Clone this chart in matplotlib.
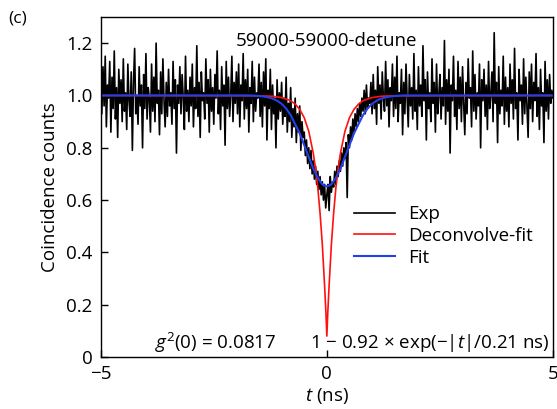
import numpy as np
import matplotlib
matplotlib.use('Agg')
import matplotlib.pyplot as plt

plt.rcParams['font.family'] = ['Open Sans', 'DejaVu Sans']
plt.rcParams['mathtext.fontset'] = 'custom'
plt.rcParams['mathtext.rm'] = 'Open Sans'
plt.rcParams['mathtext.it'] = 'Open Sans:italic'

# measured coincidence counts, t from -5 to 5 ns in 0.025 ns steps
exp_counts = [
    1.02, 0.93, 1.11, 0.96, 1.15, 0.88, 1.04, 0.99, 1.13, 0.86, 1.07, 0.95, 1.17, 0.91, 1.03, 0.84, 1.10, 0.97, 1.06, 0.90,
    1.14, 0.94, 1.01, 0.87, 1.12, 0.98, 0.92, 1.09, 0.79, 1.05, 1.18, 0.93, 1.00, 0.89, 1.11, 0.96, 1.04, 0.80, 1.08, 0.95,
    1.16, 0.91, 1.03, 0.99, 0.86, 1.12, 0.94, 1.07, 0.90, 1.20, 0.97, 1.02, 0.85, 1.09, 0.93, 1.14, 0.98, 0.88, 1.05, 0.92,
    1.10, 0.96, 1.01, 0.89, 1.13, 0.95, 1.06, 0.78, 1.04, 0.97, 1.11, 0.93, 1.08, 0.99, 0.87, 1.15, 0.94, 1.02, 0.90, 1.07,
    0.96, 1.12, 0.88, 1.03, 0.95, 1.19, 0.92, 1.05, 0.84, 1.09, 0.98, 1.01, 0.91, 1.14, 0.97, 1.06, 0.86, 1.10, 0.94, 1.03,
    0.89, 1.08, 0.99, 1.17, 0.93, 1.02, 0.87, 1.11, 0.96, 1.04, 0.81, 1.13, 0.95, 1.07, 0.92, 1.00, 1.15, 0.90, 1.05, 0.97,
    1.09, 0.93, 1.12, 0.88, 1.04, 0.98, 1.16, 0.91, 1.06, 0.95, 1.10, 0.86, 1.03, 0.97, 1.13, 0.90, 1.07, 0.94, 1.01, 0.99,
    1.12, 0.92, 1.05, 0.88, 1.09, 0.96, 1.14, 0.83, 1.02, 0.95, 1.10, 0.87, 1.04, 0.93, 0.99, 0.80, 1.06, 0.91, 1.01, 0.94,
    1.05, 0.89, 0.99, 0.92, 1.07, 0.86, 0.97, 0.90, 1.03, 0.84, 0.95, 0.88, 0.99, 0.82, 0.93, 0.86, 0.96, 0.79, 0.90, 0.84,
    0.86, 0.77, 0.83, 0.74, 0.80, 0.72, 0.79, 0.70, 0.75, 0.68, 0.73, 0.66, 0.71, 0.64, 0.69, 0.62, 0.67, 0.60, 0.66, 0.57,
    0.62, 0.66, 0.56, 0.69, 0.63, 0.67, 0.65, 0.71, 0.66, 0.73, 0.69, 0.75, 0.71, 0.78, 0.73, 0.80, 0.76, 0.82, 0.61, 0.85,
    0.80, 0.88, 0.83, 0.91, 0.86, 0.93, 0.88, 0.95, 0.90, 0.97, 0.92, 0.99, 0.94, 1.02, 0.93, 1.04, 0.95, 0.99, 0.97, 1.05,
    0.93, 1.08, 0.95, 1.02, 0.89, 1.11, 0.97, 1.04, 0.91, 1.09, 0.99, 0.94, 1.13, 0.96, 1.06, 0.88, 1.03, 0.98, 1.12, 0.92,
    1.07, 0.95, 1.15, 0.90, 1.01, 0.97, 1.10, 0.85, 1.05, 0.93, 1.12, 0.99, 0.88, 1.08, 0.96, 1.03, 0.91, 1.16, 0.94, 1.02,
    0.87, 1.11, 0.96, 1.04, 0.92, 1.19, 0.98, 1.06, 0.83, 1.09, 0.95, 1.01, 0.90, 1.14, 0.97, 1.05, 0.86, 1.12, 0.93, 1.00,
    1.08, 0.91, 1.03, 0.96, 1.21, 0.89, 1.06, 0.94, 1.10, 0.78, 1.04, 0.98, 1.15, 0.92, 1.02, 0.87, 1.13, 0.95, 1.07, 0.90,
    1.11, 0.97, 0.85, 1.05, 0.93, 1.14, 0.99, 1.03, 0.88, 1.17, 0.94, 1.08, 0.91, 1.01, 0.96, 1.12, 0.80, 1.06, 0.98, 1.10,
    0.92, 1.04, 0.87, 1.13, 0.95, 1.00, 1.09, 0.90, 1.24, 0.97, 1.05, 0.82, 1.11, 0.93, 1.02, 0.96, 1.15, 0.89, 1.07, 0.94,
    1.03, 0.88, 1.12, 0.97, 1.06, 0.91, 1.18, 0.95, 1.01, 0.83, 1.10, 0.98, 1.04, 0.89, 1.14, 0.93, 1.07, 0.96, 0.84, 1.09,
    0.95, 1.12, 0.90, 1.05, 0.98, 1.16, 0.92, 1.03, 0.87, 1.10, 0.96, 1.01, 0.82, 1.13, 0.94, 1.06, 0.91, 1.08, 0.97, 1.02,
    0.99,
]
t_exp = np.linspace(-5, 5, len(exp_counts))

# deconvolved fit curve
t_dec = [-5.0, -1.5, -1.2, -1.0, -0.8, -0.7, -0.6, -0.5, -0.4, -0.3, -0.25, -0.2, -0.15, -0.1, -0.05, -0.02, 0.0,
         0.02, 0.05, 0.1, 0.15, 0.2, 0.25, 0.3, 0.4, 0.5, 0.6, 0.7, 0.8, 1.0, 1.2, 1.5, 5.0]
y_dec = [1.0, 0.999, 0.997, 0.992, 0.98, 0.967, 0.947, 0.915, 0.863, 0.779, 0.72, 0.647, 0.55, 0.43, 0.273, 0.167, 0.08,
         0.167, 0.273, 0.43, 0.55, 0.647, 0.72, 0.779, 0.863, 0.915, 0.947, 0.967, 0.98, 0.992, 0.997, 0.999, 1.0]

# convolved fit curve
t_fit = [-5.0, -2.0, -1.7, -1.5, -1.4, -1.3, -1.2, -1.1, -1.0, -0.9, -0.8, -0.7, -0.6, -0.5, -0.4, -0.3, -0.2, -0.1, 0.0,
         0.1, 0.2, 0.3, 0.4, 0.5, 0.6, 0.7, 0.8, 0.9, 1.0, 1.1, 1.2, 1.3, 1.4, 1.5, 1.7, 2.0, 5.0]
y_fit = [1.0, 1.0, 1.0, 0.998, 0.996, 0.993, 0.988, 0.98, 0.968, 0.95, 0.925, 0.89, 0.855, 0.81, 0.765, 0.72, 0.685, 0.66, 0.652,
         0.66, 0.685, 0.72, 0.765, 0.81, 0.855, 0.89, 0.925, 0.95, 0.968, 0.98, 0.988, 0.993, 0.996, 0.998, 1.0, 1.0, 1.0]

fig = plt.figure(figsize=(5.57, 4.09), dpi=100)
ax = fig.add_axes([0.1808, 0.1271, 0.8120, 0.8313])

ax.plot(t_exp, exp_counts, color='black', lw=1.2, label='Exp')
ax.plot(t_dec, y_dec, color='#ff1010', lw=1.2, label='Deconvolve-fit')
ax.plot(t_fit, y_fit, color='#2440e8', lw=1.5, label='Fit')

ax.set_xlim(-5, 5)
ax.set_ylim(0, 1.3)
ax.set_xticks([-5, 0, 5])
ax.set_xticklabels(['\u22125', '0', '5'])
ax.set_yticks([0, 0.2, 0.4, 0.6, 0.8, 1.0, 1.2])
ax.set_yticklabels(['0', '0.2', '0.4', '0.6', '0.8', '1.0', '1.2'])
ax.tick_params(direction='in', length=5, width=1, labelsize=13.5, pad=6)
for s in ax.spines.values():
    s.set_linewidth(1.0)

ax.set_xlabel('$t$ (ns)', fontsize=13.5, labelpad=2)
ax.set_ylabel('Coincidence counts', fontsize=13.5, labelpad=5)

ax.text(0.0, 1.21, '59000-59000-detune', ha='center', va='center', fontsize=13.5)
ax.text(-2.45, 0.055, '$g^2$(0) = 0.0817', ha='center', va='center', fontsize=13.5)
ax.text(4.92, 0.055, '1 \u2212 0.92 \u00d7 exp(\u2212$|t|$/0.21 ns)', ha='right', va='center', fontsize=13.5)
fig.text(0.014, 0.955, '(c)', fontsize=12.5, ha='left', va='center')

ax.legend(loc='upper left', bbox_to_anchor=(0.53, 0.485), frameon=False, fontsize=13.5,
          handlelength=2.2, handletextpad=0.7, labelspacing=0.2, borderpad=0.2)

fig.savefig('out.png', dpi=100)
